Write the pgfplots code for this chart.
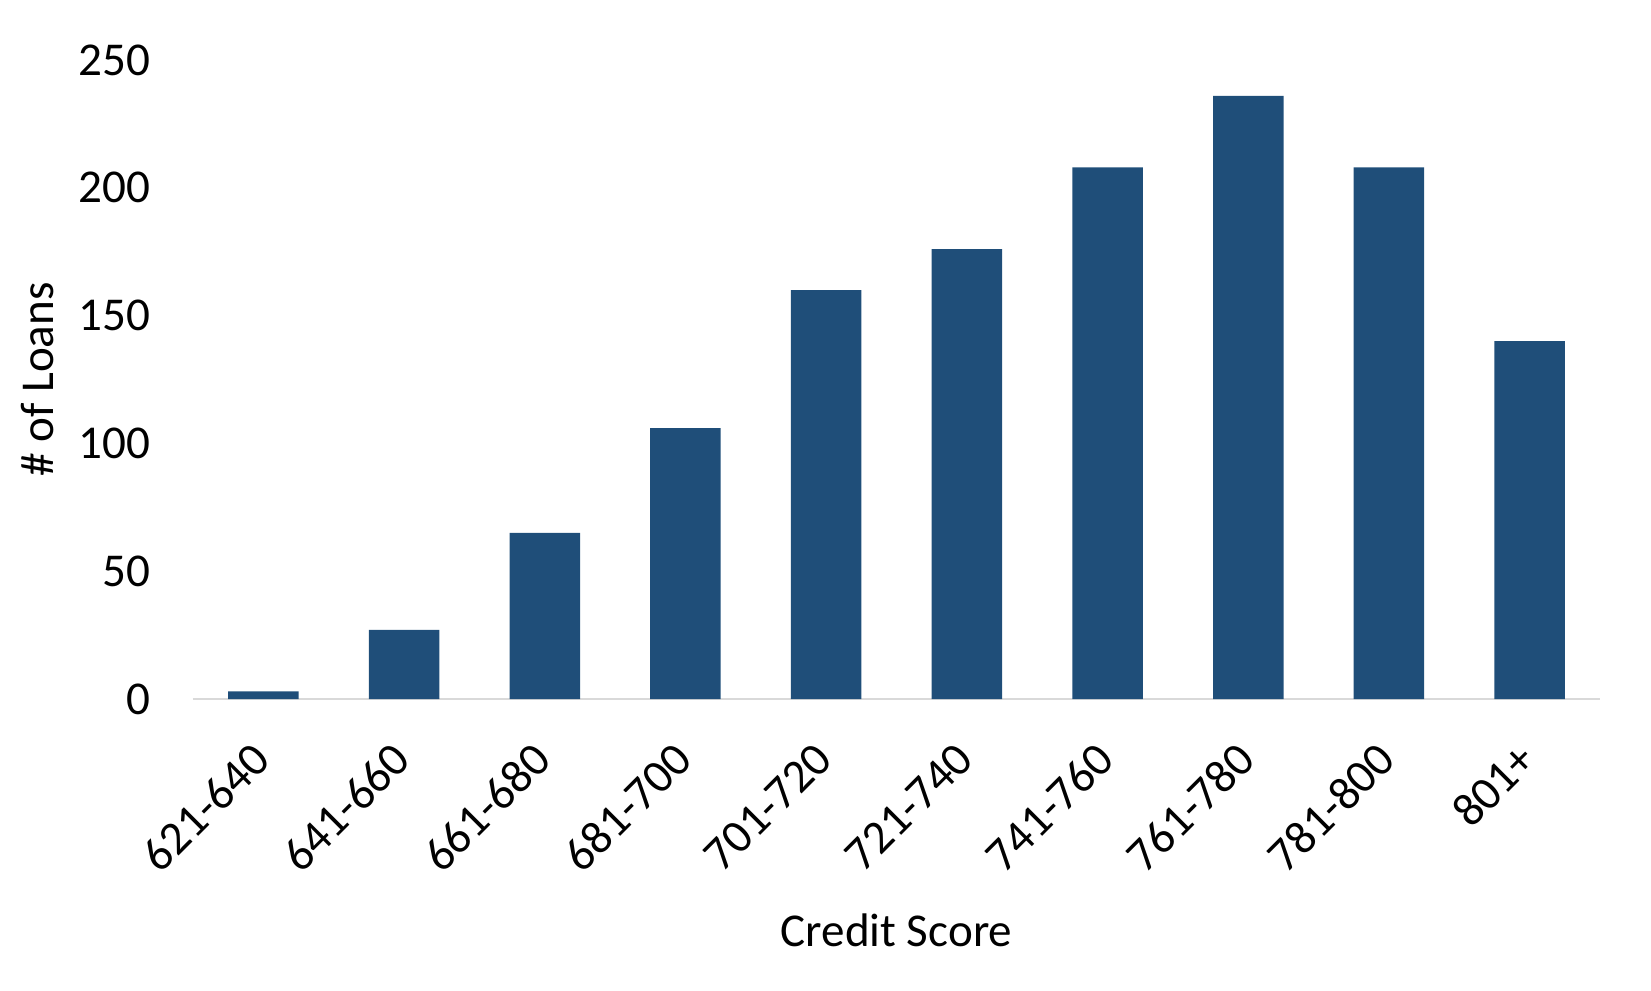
\documentclass[border=0pt]{standalone}
\usepackage{pgfplots}
\pgfplotsset{compat=1.18}
\usepackage{fontspec}
\setmainfont{Carlito}
\definecolor{barblue}{HTML}{1F4E79}
\definecolor{axgray}{HTML}{D9D9D9}
\begin{document}
\begin{tikzpicture}
\path[use as bounding box] (-1.93cm,-2.91cm) rectangle (14.58cm,6.99cm);
\begin{axis}[
    at={(0,0)}, anchor=south west,
    scale only axis,
    width=14.07cm, height=6.39cm,
    xmin=-0.5, xmax=9.5,
    ymin=0, ymax=250,
    ytick={0,50,...,250},
    xtick=data,
    xticklabels={621-640,641-660,661-680,681-700,701-720,721-740,741-760,761-780,781-800,801+},
    axis x line=bottom, axis y line=left,
    x axis line style={draw=axgray, line width=0.8pt, -},
    y axis line style={draw=none},
    major tick length=0pt,
    font=\fontsize{13.4}{16}\selectfont,
    /pgf/number format/assume math mode=true,
    yticklabel style={xshift=-0.3cm},
    xticklabel style={inner sep=0pt, xshift=-0.02cm, yshift=-0.52cm, rotate=45, anchor=east},
    xlabel={Credit Score},
    ylabel={\# of Loans},
    every axis x label/.style={at={(rel axis cs:0.5,0)}, anchor=center, yshift=-2.31cm},
    every axis y label/.style={at={(rel axis cs:0,0.5)}, xshift=-1.55cm, rotate=90, anchor=center},
]
\addplot[ybar, bar width=0.705cm, fill=barblue, draw=none] coordinates {
    (0,3) (1,27) (2,65) (3,106) (4,160) (5,176) (6,208) (7,236) (8,208) (9,140)
};
\end{axis}
\end{tikzpicture}
\end{document}
